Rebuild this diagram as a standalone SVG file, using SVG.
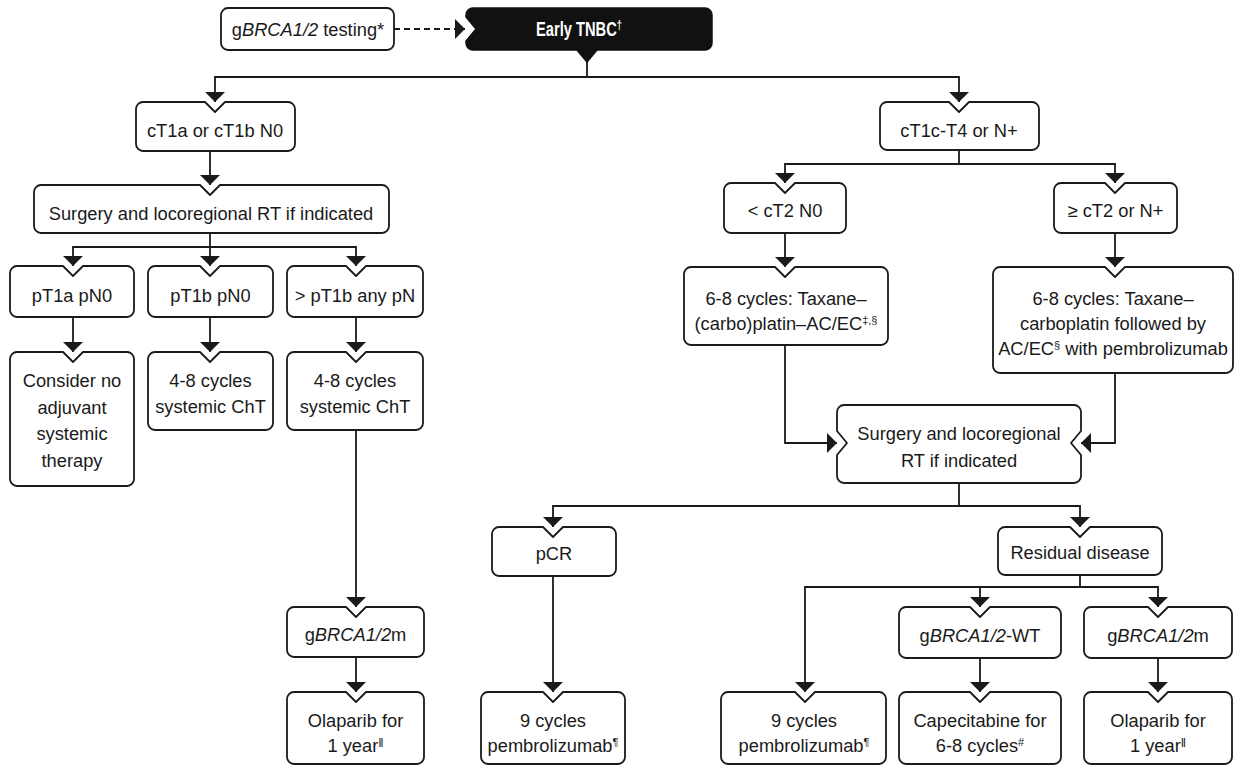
<svg xmlns="http://www.w3.org/2000/svg" width="1236" height="766" viewBox="0 0 1236 766">
<style>
.b{fill:#fff;stroke:#1a1a1a;stroke-width:1.8;stroke-linejoin:round}
.t{font-family:"Liberation Sans",Arial,sans-serif;font-size:18.3px;fill:#1a1a1a;text-anchor:middle}
.i{font-style:italic}
.s{font-size:11px;baseline-shift:6px}
.v{font-size:13px;baseline-shift:5px}
.c{fill:none;stroke:#1a1a1a;stroke-width:1.8}
</style>
<defs>
<marker id="ah" viewBox="0 0 10 20" refX="10" refY="10" markerWidth="10" markerHeight="20" markerUnits="userSpaceOnUse" orient="auto">
<path d="M0,0 L10,10 L0,20 Z" fill="#1a1a1a"/>
</marker>
</defs>
<rect width="1236" height="766" fill="#fff"/>

<g id="connectors">
<path class="c" d="M394,29 H465" stroke-dasharray="6 4" marker-end="url(#ah)"/>
<path class="c" d="M587,62 V77"/>
<path class="c" d="M587,77 H215 V102" marker-end="url(#ah)"/>
<path class="c" d="M587,77 H959 V102" marker-end="url(#ah)"/>
<path class="c" d="M210,151 V185" marker-end="url(#ah)"/>
<path class="c" d="M210,233 V247 H73 V266" marker-end="url(#ah)"/>
<path class="c" d="M210,247 V266" marker-end="url(#ah)"/>
<path class="c" d="M210,247 H356 V266" marker-end="url(#ah)"/>
<path class="c" d="M73,317 V352" marker-end="url(#ah)"/>
<path class="c" d="M210,317 V352" marker-end="url(#ah)"/>
<path class="c" d="M356,317 V352" marker-end="url(#ah)"/>
<path class="c" d="M356,430 V607" marker-end="url(#ah)"/>
<path class="c" d="M356,657 V692" marker-end="url(#ah)"/>
<path class="c" d="M959,150 V164 H785 V183" marker-end="url(#ah)"/>
<path class="c" d="M959,164 H1115 V183" marker-end="url(#ah)"/>
<path class="c" d="M785,233 V267" marker-end="url(#ah)"/>
<path class="c" d="M1115,233 V267" marker-end="url(#ah)"/>
<path class="c" d="M785,345 V443 H837" marker-end="url(#ah)"/>
<path class="c" d="M1115,373 V443 H1081" marker-end="url(#ah)"/>
<path class="c" d="M959,483 V506 H553 V527" marker-end="url(#ah)"/>
<path class="c" d="M959,506 H1080 V527" marker-end="url(#ah)"/>
<path class="c" d="M553,576 V692" marker-end="url(#ah)"/>
<path class="c" d="M1080,575 V587 H805 V692" marker-end="url(#ah)"/>
<path class="c" d="M1080,587 H1158 V607" marker-end="url(#ah)"/>
<path class="c" d="M980,587 V607" marker-end="url(#ah)"/>
<path class="c" d="M980,658 V692" marker-end="url(#ah)"/>
<path class="c" d="M1158,658 V692" marker-end="url(#ah)"/>
</g>

<g id="n-testing">
<rect class="b" x="221" y="8" width="173" height="42" rx="7"/>
<text class="t" x="308" y="36">g<tspan class="i">BRCA1/2</tspan> testing*</text>
</g>

<g id="n-tnbc">
<path d="M473,8 H705 A7,7 0 0 1 712,15 V43 A7,7 0 0 1 705,50 H597 L587,62 L577,50 H473 A7,7 0 0 1 466,43 V41 L476,29 L466,17 V15 A7,7 0 0 1 473,8 Z" fill="#111" stroke="#111" stroke-width="1.5"/>
<text transform="translate(536,36) scale(0.7,1)" x="0" y="0" style="font-family:'Liberation Sans',Arial,sans-serif;font-size:21px;font-weight:bold;fill:#fff">Early TNBC<tspan style="font-size:13px;baseline-shift:7px">†</tspan></text>
</g>

<g id="n-ct1a">
<path class="b" d="M143,102 H205 L215,112 L225,102 H288 A7,7 0 0 1 295,109 V144 A7,7 0 0 1 288,151 H143 A7,7 0 0 1 136,144 V109 A7,7 0 0 1 143,102 Z"/>
<text class="t" x="215" y="137">cT1a or cT1b N0</text>
</g>

<g id="n-ct1c">
<path class="b" d="M887,102 H949 L959,112 L969,102 H1032 A7,7 0 0 1 1039,109 V143 A7,7 0 0 1 1032,150 H887 A7,7 0 0 1 880,143 V109 A7,7 0 0 1 887,102 Z"/>
<text class="t" x="959" y="137">cT1c-T4 or N+</text>
</g>

<g id="n-surg-left">
<path class="b" d="M41,185 H200 L210,195 L220,185 H382 A7,7 0 0 1 389,192 V226 A7,7 0 0 1 382,233 H41 A7,7 0 0 1 34,226 V192 A7,7 0 0 1 41,185 Z"/>
<text class="t" x="211" y="220">Surgery and locoregional RT if indicated</text>
</g>

<g id="n-pt1a">
<path class="b" d="M17,266 H63 L73,276 L83,266 H127 A7,7 0 0 1 134,273 V310 A7,7 0 0 1 127,317 H17 A7,7 0 0 1 10,310 V273 A7,7 0 0 1 17,266 Z"/>
<text class="t" x="72" y="302">pT1a pN0</text>
</g>

<g id="n-pt1b">
<path class="b" d="M155,266 H200 L210,276 L220,266 H266 A7,7 0 0 1 273,273 V310 A7,7 0 0 1 266,317 H155 A7,7 0 0 1 148,310 V273 A7,7 0 0 1 155,266 Z"/>
<text class="t" x="210.5" y="302">pT1b pN0</text>
</g>

<g id="n-gt-pt1b">
<path class="b" d="M294,266 H346 L356,276 L366,266 H416 A7,7 0 0 1 423,273 V310 A7,7 0 0 1 416,317 H294 A7,7 0 0 1 287,310 V273 A7,7 0 0 1 294,266 Z"/>
<text class="t" x="355" y="302">&gt; pT1b any pN</text>
</g>

<g id="n-consider">
<path class="b" d="M17,352 H63 L73,362 L83,352 H127 A7,7 0 0 1 134,359 V479 A7,7 0 0 1 127,486 H17 A7,7 0 0 1 10,479 V359 A7,7 0 0 1 17,352 Z"/>
<text class="t" x="72" y="387">Consider no</text>
<text class="t" x="72" y="413.5">adjuvant</text>
<text class="t" x="72" y="440">systemic</text>
<text class="t" x="72" y="466.5">therapy</text>
</g>

<g id="n-cht1">
<path class="b" d="M155,352 H200 L210,362 L220,352 H266 A7,7 0 0 1 273,359 V423 A7,7 0 0 1 266,430 H155 A7,7 0 0 1 148,423 V359 A7,7 0 0 1 155,352 Z"/>
<text class="t" x="210.5" y="387">4-8 cycles</text>
<text class="t" x="210.5" y="413">systemic ChT</text>
</g>

<g id="n-cht2">
<path class="b" d="M294,352 H346 L356,362 L366,352 H416 A7,7 0 0 1 423,359 V423 A7,7 0 0 1 416,430 H294 A7,7 0 0 1 287,423 V359 A7,7 0 0 1 294,352 Z"/>
<text class="t" x="355" y="387">4-8 cycles</text>
<text class="t" x="355" y="413">systemic ChT</text>
</g>

<g id="n-gbrca-left">
<path class="b" d="M294,607 H346 L356,617 L366,607 H417 A7,7 0 0 1 424,614 V650 A7,7 0 0 1 417,657 H294 A7,7 0 0 1 287,650 V614 A7,7 0 0 1 294,607 Z"/>
<text class="t" x="355.5" y="641">g<tspan class="i">BRCA1/2</tspan>m</text>
</g>

<g id="n-olaparib-left">
<path class="b" d="M294,692 H346 L356,702 L366,692 H417 A7,7 0 0 1 424,699 V757 A7,7 0 0 1 417,764 H294 A7,7 0 0 1 287,757 V699 A7,7 0 0 1 294,692 Z"/>
<text class="t" x="355.5" y="727">Olaparib for</text>
<text class="t" x="355.5" y="752">1 year<tspan class="v">‖</tspan></text>
</g>

<g id="n-lt-ct2">
<path class="b" d="M731,183 H775 L785,193 L795,183 H839 A7,7 0 0 1 846,190 V226 A7,7 0 0 1 839,233 H731 A7,7 0 0 1 724,226 V190 A7,7 0 0 1 731,183 Z"/>
<text class="t" x="785" y="217">&lt; cT2 N0</text>
</g>

<g id="n-ge-ct2">
<path class="b" d="M1061,183 H1105 L1115,193 L1125,183 H1170 A7,7 0 0 1 1177,190 V226 A7,7 0 0 1 1170,233 H1061 A7,7 0 0 1 1054,226 V190 A7,7 0 0 1 1061,183 Z"/>
<text class="t" x="1115.5" y="217">≥ cT2 or N+</text>
</g>

<g id="n-taxane-1">
<path class="b" d="M691,267 H775 L785,277 L795,267 H881 A7,7 0 0 1 888,274 V338 A7,7 0 0 1 881,345 H691 A7,7 0 0 1 684,338 V274 A7,7 0 0 1 691,267 Z"/>
<text class="t" x="786" y="305">6-8 cycles: Taxane–</text>
<text class="t" x="786" y="330">(carbo)platin–AC/EC<tspan class="s">‡,§</tspan></text>
</g>

<g id="n-taxane-2">
<path class="b" d="M1000,267 H1105 L1115,277 L1125,267 H1226 A7,7 0 0 1 1233,274 V366 A7,7 0 0 1 1226,373 H1000 A7,7 0 0 1 993,366 V274 A7,7 0 0 1 1000,267 Z"/>
<text class="t" x="1113" y="305">6-8 cycles: Taxane–</text>
<text class="t" x="1113" y="330">carboplatin followed by</text>
<text class="t" x="1113" y="355">AC/EC<tspan class="s">§</tspan> with pembrolizumab</text>
</g>

<g id="n-surg-right">
<path class="b" d="M844,405 H1074 A7,7 0 0 1 1081,412 V431 L1071,443 L1081,455 V476 A7,7 0 0 1 1074,483 H844 A7,7 0 0 1 837,476 V455 L847,443 L837,431 V412 A7,7 0 0 1 844,405 Z"/>
<text class="t" x="959" y="440">Surgery and locoregional</text>
<text class="t" x="959" y="467">RT if indicated</text>
</g>

<g id="n-pcr">
<path class="b" d="M499,527 H543 L553,537 L563,527 H609 A7,7 0 0 1 616,534 V569 A7,7 0 0 1 609,576 H499 A7,7 0 0 1 492,569 V534 A7,7 0 0 1 499,527 Z"/>
<text class="t" x="554" y="560">pCR</text>
</g>

<g id="n-residual">
<path class="b" d="M1005,527 H1070 L1080,537 L1090,527 H1155 A7,7 0 0 1 1162,534 V568 A7,7 0 0 1 1155,575 H1005 A7,7 0 0 1 998,568 V534 A7,7 0 0 1 1005,527 Z"/>
<text class="t" x="1080" y="559">Residual disease</text>
</g>

<g id="n-pembro-1">
<path class="b" d="M488,692 H543 L553,702 L563,692 H618 A7,7 0 0 1 625,699 V757 A7,7 0 0 1 618,764 H488 A7,7 0 0 1 481,757 V699 A7,7 0 0 1 488,692 Z"/>
<text class="t" x="553" y="727">9 cycles</text>
<text class="t" x="553" y="752">pembrolizumab<tspan class="s">¶</tspan></text>
</g>

<g id="n-pembro-2">
<path class="b" d="M728,692 H795 L805,702 L815,692 H879 A7,7 0 0 1 886,699 V757 A7,7 0 0 1 879,764 H728 A7,7 0 0 1 721,757 V699 A7,7 0 0 1 728,692 Z"/>
<text class="t" x="804" y="727">9 cycles</text>
<text class="t" x="804" y="752">pembrolizumab<tspan class="s">¶</tspan></text>
</g>

<g id="n-gbrca-wt">
<path class="b" d="M906,607 H970 L980,617 L990,607 H1054 A7,7 0 0 1 1061,614 V651 A7,7 0 0 1 1054,658 H906 A7,7 0 0 1 899,651 V614 A7,7 0 0 1 906,607 Z"/>
<text class="t" x="980" y="642">g<tspan class="i">BRCA1/2</tspan>-WT</text>
</g>

<g id="n-capecitabine">
<path class="b" d="M906,692 H970 L980,702 L990,692 H1054 A7,7 0 0 1 1061,699 V757 A7,7 0 0 1 1054,764 H906 A7,7 0 0 1 899,757 V699 A7,7 0 0 1 906,692 Z"/>
<text class="t" x="980" y="727">Capecitabine for</text>
<text class="t" x="980" y="752">6-8 cycles<tspan class="s">#</tspan></text>
</g>

<g id="n-gbrca-m">
<path class="b" d="M1091,607 H1148 L1158,617 L1168,607 H1225 A7,7 0 0 1 1232,614 V651 A7,7 0 0 1 1225,658 H1091 A7,7 0 0 1 1084,651 V614 A7,7 0 0 1 1091,607 Z"/>
<text class="t" x="1158" y="642">g<tspan class="i">BRCA1/2</tspan>m</text>
</g>

<g id="n-olaparib-right">
<path class="b" d="M1091,692 H1148 L1158,702 L1168,692 H1225 A7,7 0 0 1 1232,699 V757 A7,7 0 0 1 1225,764 H1091 A7,7 0 0 1 1084,757 V699 A7,7 0 0 1 1091,692 Z"/>
<text class="t" x="1158" y="727">Olaparib for</text>
<text class="t" x="1158" y="752">1 year<tspan class="v">‖</tspan></text>
</g>
</svg>
